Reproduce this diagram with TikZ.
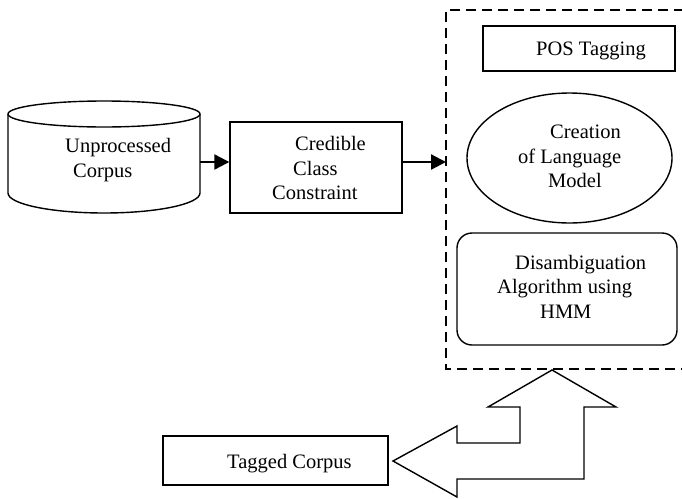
\documentclass[tikz,border=0pt]{standalone}
\usepackage{fontspec}
\setmainfont{Liberation Serif}
\usetikzlibrary{arrows.meta,shapes.geometric}
\begin{document}
\begin{tikzpicture}[x=1pt,y=-1pt,
  box/.style={draw, line width=1.4pt, inner sep=0pt},
  txt/.style={anchor=base west, inner sep=0pt, font=\fontsize{20.5}{24.5}\selectfont},
  flow/.style={line width=2.2pt, -{Triangle[length=15pt,width=15pt]}},
  stagebox/.style={line width=1.7pt, dash pattern=on 10pt off 6pt}]
\useasboundingbox (0,0) rectangle (682,498);

% storage cylinder for the raw corpus
\draw[line width=1.4pt] (8,114) arc[start angle=180,end angle=-180,x radius=96,y radius=13];
\draw[line width=1.4pt] (8,114) -- (8,193) arc[start angle=180,end angle=0,x radius=96,y radius=20] -- (200,114);
\coordinate (uc) at (200,162);
\node[txt] (uc1) at (65,152) {Unprocessed};
\node[txt] (uc2) at (73,177) {Corpus};

% constraint box
\node[box, minimum width=172pt, minimum height=91pt] (ccc) at (316,167.5) {};
\node[txt] (cc1) at (295,150) {Credible};
\node[txt] (cc2) at (293,175) {Class};
\node[txt] (cc3) at (272,199) {Constraint};

% dashed stage frame (open to the right)
\coordinate (dTR) at (684,10);
\coordinate (dTL) at (446,10);
\coordinate (dBL) at (446,369);
\coordinate (dBR) at (684,369);
\draw[stagebox] (dTR) -- (dTL) -- (dBL) -- (dBR);

% connectors
\draw[flow] (uc) -- (ccc.west |- uc);
\draw[flow] (ccc.east |- uc) -- (dTL |- uc);

% inner steps
\node[box, minimum width=192pt, minimum height=45pt] (pos) at (579,48.5) {};
\node[txt] (pos1) at (536,55) {POS Tagging};

\node[draw, line width=1.4pt, ellipse, minimum width=205pt, minimum height=130pt, inner sep=0pt] (lm) at (569.5,158) {};
\node[txt] (lm1) at (550,138) {Creation};
\node[txt] (lm2) at (518,163) {of Language};
\node[txt] (lm3) at (548,187) {Model};

\node[box, rounded corners=15pt, minimum width=220pt, minimum height=112pt] (dis) at (567,289) {};
\node[txt] (dis1) at (515,269) {Disambiguation};
\node[txt] (dis2) at (497,293) {Algorithm using};
\node[txt] (dis3) at (540,318) {HMM};

% output
\node[box, minimum width=225pt, minimum height=49pt] (tc) at (275.5,460.5) {};
\node[txt] (tc1) at (227,468) {Tagged Corpus};

% bent block arrow from the stage frame to the output
\draw[line width=1.4pt, line join=miter] (552,370) -- (616,407) -- (584,407) -- (584,479)
  -- (457,479) -- (457,497) -- (393,461) -- (457,426) -- (457,443) -- (520,443)
  -- (520,407) -- (488,407) -- cycle;
\end{tikzpicture}
\end{document}
